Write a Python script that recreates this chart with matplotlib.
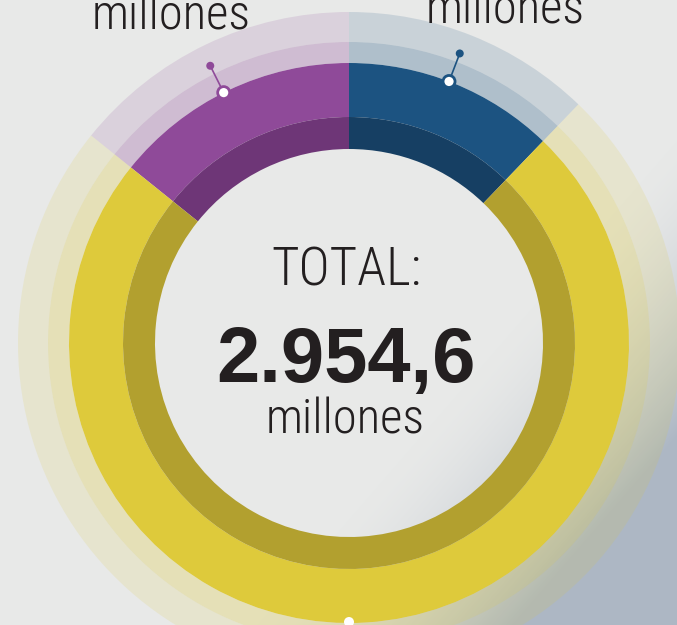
import numpy as np
import matplotlib.pyplot as plt
from matplotlib.patches import Wedge, Circle

# data
labels = ["purple", "blue", "yellow"]
values = [420.0, 360.0, 2174.6]
total_label = "TOTAL:"
total_text = "2.954,6"
unit_text = "millones"

main_cols = ["#8F4A99", "#1C5381", "#DECA3B"]
dark_cols = ["#6E3677", "#163F63", "#B2A02F"]

W, H = 677, 625
cx, cy = 349, H - 343
r_hole, r_dark, r_main, r_l1, r_l2 = 194, 226, 280, 301, 331

fig = plt.figure(figsize=(W / 100, H / 100), dpi=100)
ax = fig.add_axes([0, 0, 1, 1])
ax.set_xlim(0, W)
ax.set_ylim(0, H)
ax.set_aspect("equal")
ax.axis("off")

# background: light grey paper, bluish grey cloth in the lower right corner
yy, xx = np.mgrid[0:H, 0:W]
shade = np.clip((xx - 430) / 260 + (yy - 330) / 300 - 0.3, 0, 1)
shade = shade ** 1.6
base = np.array([0.910, 0.914, 0.910])
cloth = np.array([0.68, 0.72, 0.77])
bg = base[None, None, :] * (1 - shade[..., None]) + cloth[None, None, :] * shade[..., None]
ax.imshow(bg, extent=[0, W, 0, H], origin="upper", zorder=0, interpolation="bilinear")

angles = np.array(values) / sum(values) * 360
starts = [90, 90 - angles[1], 90 + angles[0]]
ends = [90 + angles[0], 90, 90 - angles[1] + 360]

for i in range(3):
    t1, t2 = starts[i], ends[i]
    ax.add_patch(Wedge((cx, cy), r_l2, t1, t2, width=r_l2 - r_l1, color=main_cols[i], alpha=0.15, lw=0, zorder=1))
    ax.add_patch(Wedge((cx, cy), r_l1, t1, t2, width=r_l1 - r_main, color=main_cols[i], alpha=0.28, lw=0, zorder=1))
    ax.add_patch(Wedge((cx, cy), r_main, t1, t2, width=r_main - r_dark, color=main_cols[i], lw=0, zorder=2))
    ax.add_patch(Wedge((cx, cy), r_dark, t1, t2, width=r_dark - r_hole, color=dark_cols[i], lw=0, zorder=2))

# markers at the middle of the two small segments
for i in range(2):
    mid = np.deg2rad((starts[i] + ends[i]) / 2 + 1)
    x0, y0 = cx + r_main * np.cos(mid), cy + r_main * np.sin(mid)
    x1, y1 = cx + 310 * np.cos(mid), cy + 310 * np.sin(mid)
    ax.plot([x0, x1], [y0, y1], color=main_cols[i], lw=1.2, zorder=3)
    ax.add_patch(Circle((x1, y1), 4, color=main_cols[i], lw=0, zorder=4))
    ax.add_patch(Circle((x0, y0), 6, facecolor="white", edgecolor=main_cols[i], lw=2, zorder=4))
ax.add_patch(Circle((cx, cy - r_main + 1), 5, color="white", lw=0, zorder=4))

cond = ["Roboto Condensed", "DejaVu Sans"]
ax.text(cx - 3, H - 285, total_label, ha="center", va="baseline", fontsize=38,
        family=cond, weight=300, color="#231F20", zorder=5)
ax.text(cx - 3, H - 382, total_text, ha="center", va="baseline", fontsize=56,
        family=["Liberation Sans", "DejaVu Sans"], weight="bold", color="#231F20", zorder=5)
ax.text(cx - 4, H - 433, unit_text, ha="center", va="baseline", fontsize=35,
        family=cond, weight=300, color="#231F20", zorder=5)

# labels of the two small segments (their numbers lie above the frame)
ax.text(171, H - 30, unit_text, ha="center", va="baseline", fontsize=35,
        family=cond, weight=300, color="#231F20", zorder=5)
ax.text(505, H - 23, unit_text, ha="center", va="baseline", fontsize=35,
        family=cond, weight=300, color="#231F20", zorder=5)

fig.savefig("out.png", dpi=100)
